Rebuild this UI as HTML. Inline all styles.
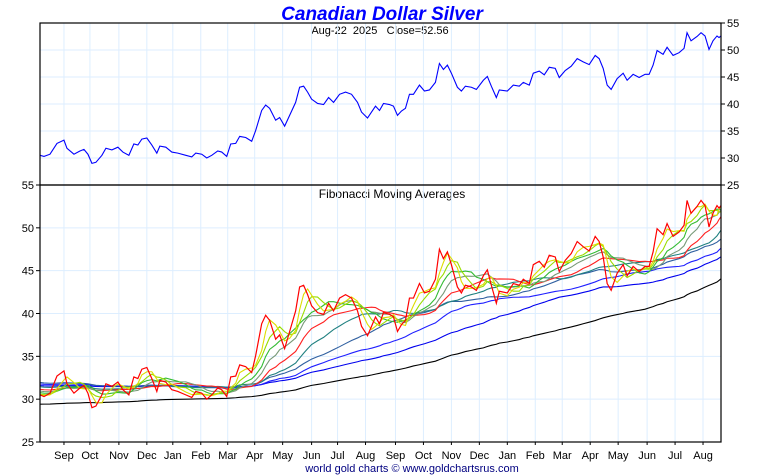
<!DOCTYPE html>
<html><head><meta charset="utf-8"><style>
html,body{margin:0;padding:0;background:#fff;width:760px;height:475px;overflow:hidden}
svg{display:block;font-family:"Liberation Sans",sans-serif}
</style></head><body>
<svg id="chart" width="760" height="475" viewBox="0 0 760 475" xmlns="http://www.w3.org/2000/svg">
<text x="382" y="20" text-anchor="middle" font-size="19" font-weight="bold" font-style="italic" fill="#0000ff">Canadian Dollar Silver</text>
<text x="380" y="34" text-anchor="middle" font-size="11" fill="#000" style="white-space:pre" xml:space="preserve">Aug-22  2025   Close=52.56</text>
<text x="392" y="198" text-anchor="middle" font-size="12" fill="#000">Fibonacci Moving Averages</text>
<text x="412" y="472" text-anchor="middle" font-size="11" fill="#000080">world gold charts © www.goldchartsrus.com</text>
<g id="grid"></g><g id="series"></g><g id="axes"></g>
</svg>
<script>
// chart days (time axis units, 0..682)
const dates=[0,4,10,17,24,27,34,40,44,48,52,56,62,66,72,78,83,89,94,98,102,107,112,117,120,126,132,138,146,152,156,162,167,172,178,182,187,191,196,200,206,212,216,222,226,230,236,240,245,250,256,260,264,268,272,278,284,289,294,300,306,312,318,322,328,332,336,340,344,350,354,358,362,366,370,374,380,385,390,396,400,404,408,412,418,422,426,432,437,444,448,452,457,460,468,474,480,484,490,494,500,505,510,516,520,526,532,538,544,550,556,560,564,568,572,578,584,588,594,600,606,610,614,618,624,628,634,640,645,648,652,658,662,666,670,674,678,680,682];
const prices=[30.5,30.3,30.7,32.7,33.3,31.8,30.7,31.3,31.6,30.7,29.0,29.2,30.5,31.8,31.5,32.0,31.1,30.5,32.6,32.4,33.5,33.7,32.4,30.9,32.2,32.0,31.1,30.9,30.5,30.2,30.9,30.7,30.0,30.5,31.3,31.1,30.3,32.6,32.7,34.0,33.8,33.1,35.1,38.8,39.8,39.2,37.0,37.5,35.9,37.9,40.3,43.1,43.3,42.2,40.9,40.1,39.9,41.2,40.3,41.8,42.2,41.8,40.3,38.5,37.4,38.5,39.6,38.8,40.1,39.9,39.6,37.9,38.7,39.2,41.8,41.8,43.5,42.4,42.6,44.0,47.5,46.4,47.2,45.7,43.1,42.4,43.3,43.1,42.7,44.4,45.1,43.3,41.2,42.6,42.4,43.5,43.3,44.0,43.5,45.7,46.1,45.4,46.8,46.6,44.9,46.2,47.0,48.4,47.8,47.3,49.0,48.4,46.6,43.5,42.7,44.7,45.7,44.4,45.5,44.9,45.5,45.5,47.2,49.9,49.2,50.5,49.0,49.5,50.3,53.2,51.7,52.5,53.2,52.6,50.1,51.7,52.6,52.3,52.6];
const maPeriods=[3,5,8,11,16,22,32,45,62,98];
const maStartValues=[30.5,30.6,30.8,31.0,31.2,31.5,32.0,31.8,31.6,29.4];
const maColors=['#dddd00','#99dd00','#33bb33','#779977','#ff2020','#208080','#3060a0','#2020ff','#0000ee','#000000'];
const topTicks=[55,50,45,40,35,30,25];
const botTicks=[55,50,45,40,35,30,25];
const monthLabels=['Sep','Oct','Nov','Dec','Jan','Feb','Mar','Apr','May','Jun','Jul','Aug','Sep','Oct','Nov','Dec','Jan','Feb','Mar','Apr','May','Jun','Jul','Aug'];
const monthDays=[24,50,79,107,133,161,188,215,243,272,298,326,356,384,412,440,468,496,523,551,579,608,636,664];

const NS='http://www.w3.org/2000/svg';
const L=40,R=721,T1=23,B1=185,T2=185,B2=442;
const x=d=>L+d/682*(R-L);
const y1=v=>B1-(v-25)/30*(B1-T1);
const y2=v=>B2-(v-25)/30*(B2-T2);
function mk(tag,attrs,parent){const e=document.createElementNS(NS,tag);for(const k in attrs)e.setAttribute(k,attrs[k]);parent.appendChild(e);return e;}
const grid=document.getElementById('grid'),ser=document.getElementById('series'),axes=document.getElementById('axes');
monthDays.forEach((d,i)=>{
 const g=mk('line',{x1:x(d),x2:x(d),y1:T1,y2:B2,stroke:'#ddeeff','stroke-width':1},grid);
 
 
 const t=mk('text',{x:x(d),y:459,'text-anchor':'middle','font-size':11,fill:'#000'},axes);
 t.textContent=monthLabels[i];
 
 
 const tk=mk('line',{x1:x(d),x2:x(d),y1:B2,y2:B2+3,stroke:'#000'},axes);
 
 
});
topTicks.forEach(v=>{
 if(v>25&&v<55){const g=mk('line',{x1:L,x2:R,y1:y1(v),y2:y1(v),stroke:'#ddeeff'},grid);
 
 }
 const tk=mk('line',{x1:R,x2:R+4,y1:y1(v),y2:y1(v),stroke:'#000'},axes);
 
 
 const t=mk('text',{x:R+6,y:y1(v)+4,'font-size':11,fill:'#000'},axes);
 t.textContent=v;
 
 
});
botTicks.forEach(v=>{
 if(v>25&&v<55){const g=mk('line',{x1:L,x2:R,y1:y2(v),y2:y2(v),stroke:'#ddeeff'},grid);
 
 }
 const tk=mk('line',{x1:L-4,x2:L,y1:y2(v),y2:y2(v),stroke:'#000'},axes);
 
 
 const t=mk('text',{x:L-6,y:y2(v)+4,'text-anchor':'end','font-size':11,fill:'#000'},axes);
 t.textContent=v;
 
 
});
const f1=mk('rect',{x:L,y:T1,width:R-L,height:B1-T1,fill:'none',stroke:'#000','stroke-width':1.2},axes);


const f2=mk('rect',{x:L,y:T2,width:R-L,height:B2-T2,fill:'none',stroke:'#000','stroke-width':1.2},axes);


const pl=mk('polyline',{points:prices.map((p,i)=>x(dates[i])+','+y1(p)).join(' '),fill:'none',stroke:'#0000ff','stroke-width':1.1},ser);


function ma(per,start){return prices.map((p,i)=>{let s=0;for(let j=i-per+1;j<=i;j++)s+=j<0?start:prices[j];return s/per;});}
for(let k=maPeriods.length-1;k>=0;k--){
 const vals=ma(maPeriods[k],maStartValues[k]);
 const m=mk('polyline',{points:vals.map((v,i)=>x(dates[i])+','+y2(v)).join(' '),fill:'none',stroke:maColors[k],'stroke-width':1.1},ser);
 
 
}
const rp=mk('polyline',{points:prices.map((p,i)=>x(dates[i])+','+y2(p)).join(' '),fill:'none',stroke:'#ff0000','stroke-width':1.2},ser);


</script>
</body></html>
